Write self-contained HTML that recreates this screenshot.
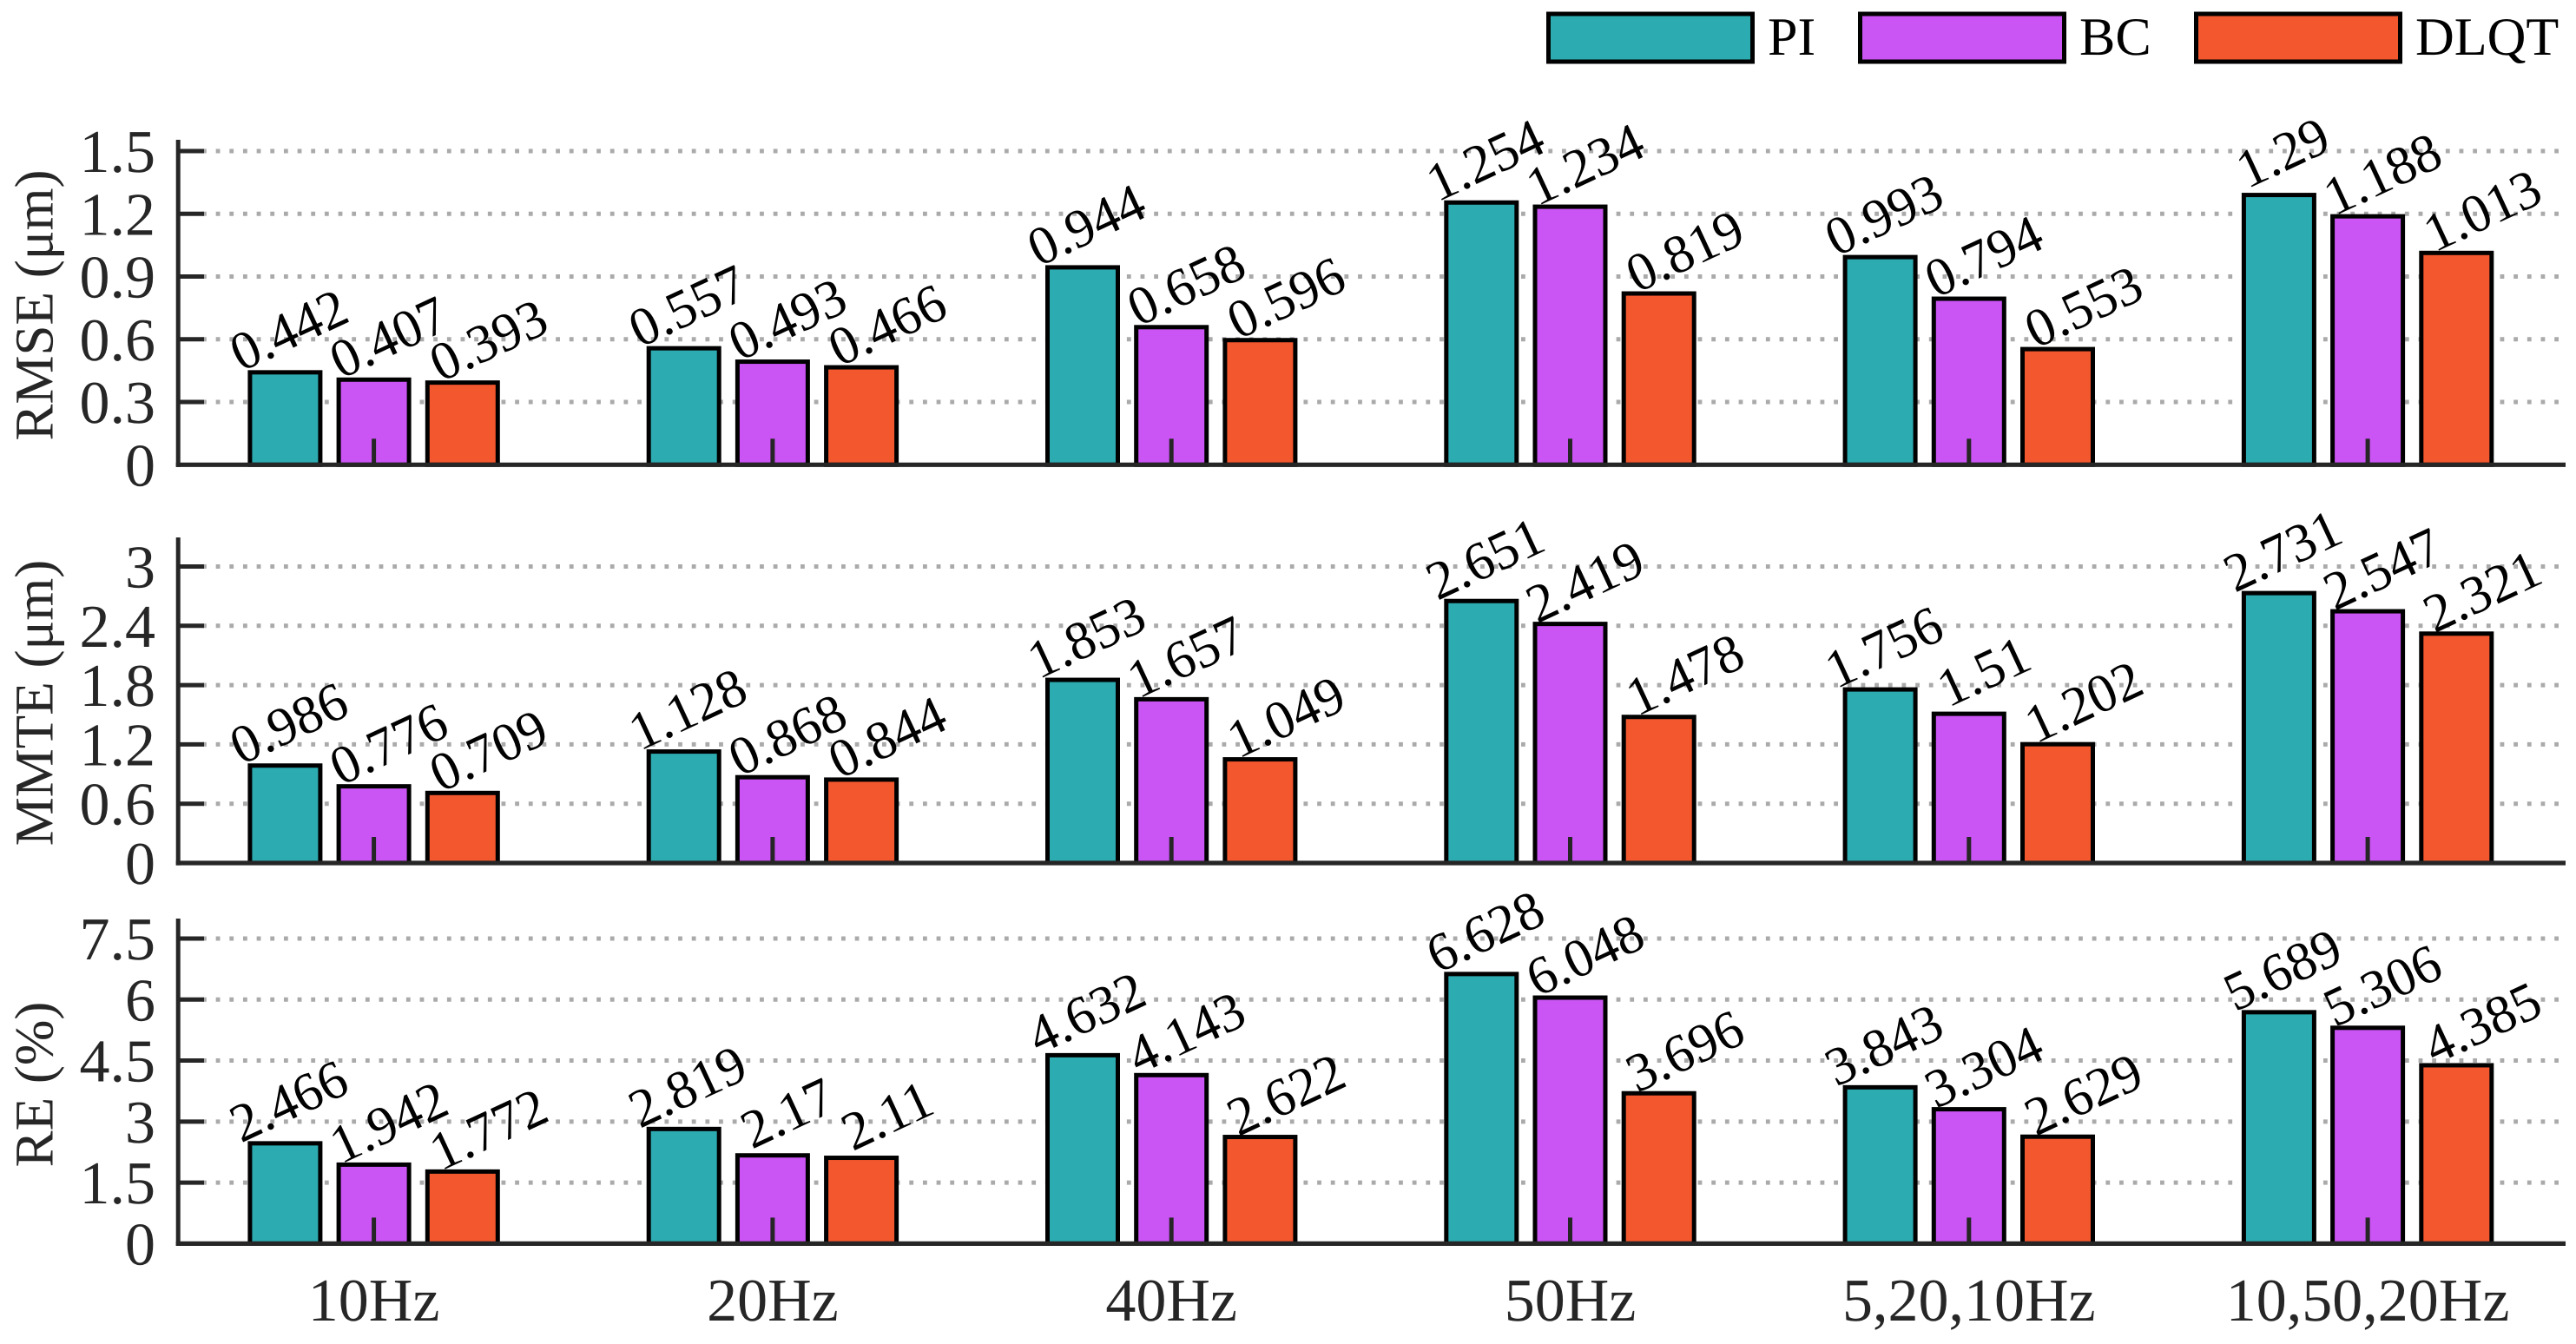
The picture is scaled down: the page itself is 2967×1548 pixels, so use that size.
<!DOCTYPE html>
<html lang="en">
<head>
<meta charset="utf-8">
<title>RMSE, MMTE and RE by frequency</title>
<style>
html,body{margin:0;padding:0;background:#fff;width:2967px;height:1548px;overflow:hidden}
svg{display:block}
text{font-family:"Liberation Serif","DejaVu Serif",serif;text-rendering:geometricPrecision}
</style>
</head>
<body>
<svg id="chart" xmlns="http://www.w3.org/2000/svg" width="2967" height="1548" viewBox="0 0 2967 1548"></svg>
<script>
const categories = ['10Hz', '20Hz', '40Hz', '50Hz', '5,20,10Hz', '10,50,20Hz'];
const seriesNames = ['PI', 'BC', 'DLQT'];

const rmsePI = [0.442, 0.557, 0.944, 1.254, 0.993, 1.29];
const rmseBC = [0.407, 0.493, 0.658, 1.234, 0.794, 1.188];
const rmseDLQT = [0.393, 0.466, 0.596, 0.819, 0.553, 1.013];
const rmseTicks = [0, 0.3, 0.6, 0.9, 1.2, 1.5];

const mmtePI = [0.986, 1.128, 1.853, 2.651, 1.756, 2.731];
const mmteBC = [0.776, 0.868, 1.657, 2.419, 1.51, 2.547];
const mmteDLQT = [0.709, 0.844, 1.049, 1.478, 1.202, 2.321];
const mmteTicks = [0, 0.6, 1.2, 1.8, 2.4, 3];

const rePI = [2.466, 2.819, 4.632, 6.628, 3.843, 5.689];
const reBC = [1.942, 2.17, 4.143, 6.048, 3.304, 5.306];
const reDLQT = [1.772, 2.11, 2.622, 3.696, 2.629, 4.385];
const reTicks = [0, 1.5, 3, 4.5, 6, 7.5];

const colors = ['#2CABB1', '#CA54F4', '#F3572E'];

const NS = 'http://www.w3.org/2000/svg';
const svg = document.getElementById('chart');
const AXIS_COLOR = '#262626';
const AXIS_LEFT = 205.2;
const AXIS_RIGHT = 2955;

function el(tag, attrs, parent) {
  const node = document.createElementNS(NS, tag);
  for (const k in attrs) node.setAttribute(k, attrs[k]);
  (parent || svg).appendChild(node);
  return node;
}

function xGroup(i) { return 430.6 + 459.3 * i; }
function xBar(i, s) { return xGroup(i) + (s - 1) * 102.2; }

function drawPanel(p) {
  const y = v => p.baseY - (v / p.maxTick) * (p.baseY - p.maxTickY);
  const g = el('g', {});
  
  

  p.ticks.forEach(t => {
    if (t === 0) return;
    const line = el('line', { x1: 233, x2: AXIS_RIGHT, y1: y(t), y2: y(t), stroke: '#aaaaaa', 'stroke-width': 5, 'stroke-dasharray': '4.8 10.86' }, g);
    
    
  });

  p.series.forEach((vals, s) => {
    vals.forEach((v, i) => {
      const cx = xBar(i, s);
      const rect = el('rect', { x: cx - 40.5, y: y(v), width: 81, height: p.baseY - y(v), fill: colors[s], stroke: '#000', 'stroke-width': 5 }, g);
      
      
    });
  });

  p.series.forEach((vals, s) => {
    vals.forEach((v, i) => {
      const lx = xBar(i, s) + 13 + 12.8 * s;
      const ly = y(v) - 30;
      const label = el('text', { x: 0, y: 0, transform: 'translate(' + lx + ' ' + ly + ') rotate(-25)', 'text-anchor': 'middle', 'font-size': 62.5, fill: '#000' }, g);
      label.textContent = String(v);
      
      
    });
  });

  categories.forEach((c, i) => {
    const tick = el('line', { x1: xGroup(i), x2: xGroup(i), y1: p.baseY, y2: p.baseY - 30, stroke: AXIS_COLOR, 'stroke-width': 5 }, g);
    
    
  });

  const yAxis = el('line', { x1: AXIS_LEFT, x2: AXIS_LEFT, y1: p.topY, y2: p.baseY + 2.6, stroke: AXIS_COLOR, 'stroke-width': 5 }, g);
  
  

  const xAxis = el('line', { x1: AXIS_LEFT - 2.5, x2: AXIS_RIGHT, y1: p.baseY, y2: p.baseY, stroke: AXIS_COLOR, 'stroke-width': 5.2 }, g);
  
  

  p.ticks.forEach(t => {
    if (t !== 0) {
      const tick = el('line', { x1: AXIS_LEFT, x2: 235, y1: y(t), y2: y(t), stroke: AXIS_COLOR, 'stroke-width': 5 }, g);
      
      
    }
    const tl = el('text', { x: 179, y: y(t) + 24, 'text-anchor': 'end', 'font-size': 70, fill: AXIS_COLOR }, g);
    tl.textContent = String(t);
    
    
  });

  const title = el('text', { x: 0, y: 0, transform: 'translate(60.5 ' + p.titleY + ') rotate(-90)', 'text-anchor': 'middle', 'font-size': 63, fill: AXIS_COLOR }, g);
  title.textContent = p.title;
  
  
}

drawPanel({ key: 'rmse', title: 'RMSE (\u03bcm)', series: [rmsePI, rmseBC, rmseDLQT], ticks: rmseTicks, maxTick: 1.5, baseY: 535.3, maxTickY: 174, topY: 161, titleY: 351.5 });
drawPanel({ key: 'mmte', title: 'MMTE (\u03bcm)', series: [mmtePI, mmteBC, mmteDLQT], ticks: mmteTicks, maxTick: 3, baseY: 994, maxTickY: 652.5, topY: 619, titleY: 809.5 });
drawPanel({ key: 're', title: 'RE (%)', series: [rePI, reBC, reDLQT], ticks: reTicks, maxTick: 7.5, baseY: 1432.4, maxTickY: 1081, topY: 1058, titleY: 1249 });

categories.forEach((c, i) => {
  const t = el('text', { x: xGroup(i), y: 1521, 'text-anchor': 'middle', 'font-size': 70, fill: AXIS_COLOR });
  t.textContent = c;
  
  
});

const legendBoxX = [1783.5, 2142.5, 2529.5];
const legendTextX = [2036, 2395, 2782];
seriesNames.forEach((n, s) => {
  const g = el('g', {});
  
  
  const box = el('rect', { x: legendBoxX[s], y: 16, width: 235, height: 55, fill: colors[s], stroke: '#000', 'stroke-width': 5 }, g);
  
  
  const lt = el('text', { x: legendTextX[s], y: 63, 'font-size': 62, fill: '#000' }, g);
  lt.textContent = n;
  
  
});
</script>
</body>
</html>
